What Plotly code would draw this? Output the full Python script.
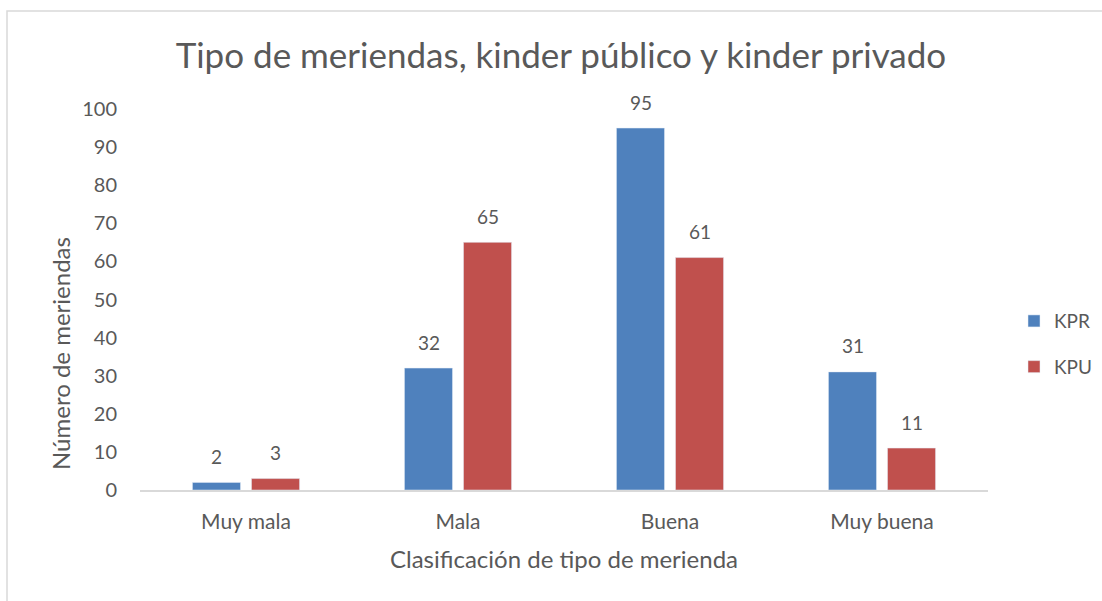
import plotly.graph_objects as go

categories = ["Muy mala", "Mala", "Buena", "Muy buena"]
kpr = [2, 32, 95, 31]
kpu = [3, 65, 61, 11]
y_ticks = [0, 10, 20, 30, 40, 50, 60, 70, 80, 90, 100]

FONT = "Lato, Calibri, Carlito, sans-serif"
GRAY = "#595959"

fig = go.Figure()
fig.add_trace(go.Bar(x=categories, y=kpr, name="KPR", marker_color="#4F81BD",
                     legendgroup="a"))
fig.add_trace(go.Bar(x=categories, y=kpu, name="KPU", marker_color="#C0504D",
                     legendgroup="b"))

# data labels above bars
annotations = []
for series, shift in ((kpr, -29.5), (kpu, 29.5)):
    for cat, val in zip(categories, series):
        annotations.append(dict(x=cat, y=val, xref="x", yref="y", text=str(val),
                                showarrow=False, xshift=shift, yshift=26,
                                yanchor="middle", xanchor="center",
                                font=dict(size=19, color=GRAY, family=FONT)))

# y-axis title (placed lower than the plot centre, as in the reference)
annotations.append(dict(text="Número de meriendas", xref="paper", yref="paper",
                        x=(60 - 140) / 848, y=(490 - 354) / 381, textangle=-90,
                        showarrow=False, xanchor="center", yanchor="middle",
                        font=dict(size=24, color=GRAY, family=FONT)))

fig.update_layout(
    width=1102, height=601,
    margin=dict(l=140, r=114, t=109, b=111, autoexpand=False),
    paper_bgcolor="white", plot_bgcolor="white",
    font=dict(family=FONT, color=GRAY, size=19),
    title=dict(text="Tipo de meriendas, kinder público y kinder privado",
               x=0.509, xanchor="center", y=0.908, yanchor="middle",
               font=dict(size=35, color=GRAY, family=FONT)),
    barmode="group", bargap=0.443, bargroupgap=0.186,
    xaxis=dict(showgrid=False, showline=True, linecolor="#D9D9D9", linewidth=1.5,
               ticks="", tickfont=dict(size=21, color=GRAY), automargin=False,
               ticklabelstandoff=12,
               title=dict(text="Clasificación de tipo de merienda",
                          font=dict(size=24, color=GRAY), standoff=19)),
    yaxis=dict(range=[0, 100], tickvals=y_ticks, showgrid=False, zeroline=False,
               showline=False, ticks="", tickfont=dict(size=20, color=GRAY),
               ticklabelstandoff=22, automargin=False),
    legend=dict(xref="container", x=1014 / 1102, xanchor="left",
                y=0.383, yanchor="middle",
                font=dict(size=19, color=GRAY), tracegroupgap=18,
                itemwidth=30),
    annotations=annotations,
    shapes=[dict(type="rect", xref="paper", yref="paper",
                 x0=(7 - 140) / 848, x1=(1110 - 140) / 848,
                 y0=-(610 - 490) / 381, y1=(490 - 11) / 381,
                 line=dict(color="#D9D9D9", width=1.5), fillcolor="rgba(0,0,0,0)",
                 layer="below")],
)

fig.write_html("out.html", config={"displayModeBar": False},
               post_script="document.body.style.margin='0px';document.body.style.overflow='hidden';")
